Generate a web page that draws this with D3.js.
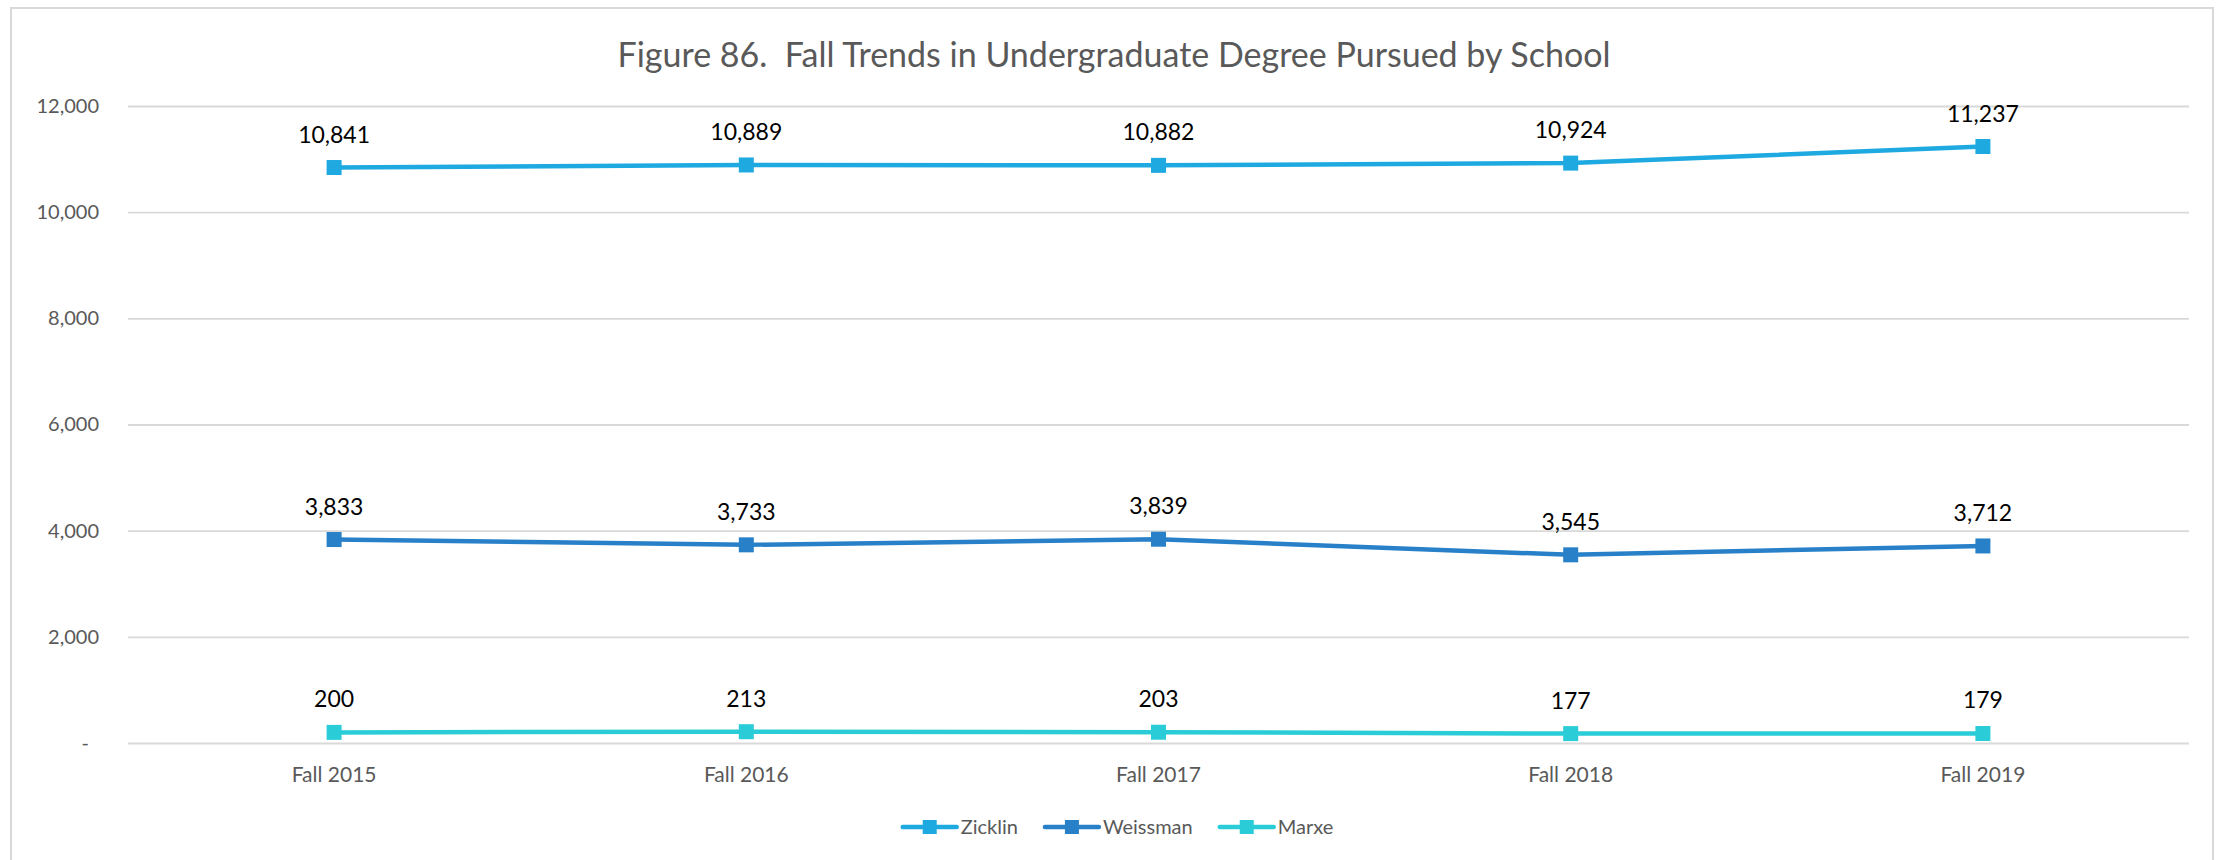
<!DOCTYPE html>
<html>
<head>
<meta charset="utf-8">
<script src="https://cdn.jsdelivr.net/npm/d3@7"></script>
<style>
  body { margin: 0; background: #fff; }
  text { font-family: Lato, "Open Sans", sans-serif; }
</style>
</head>
<body>
<div id="chart"></div>
<script>
const categories = ['Fall 2015', 'Fall 2016', 'Fall 2017', 'Fall 2018', 'Fall 2019'];
const zicklin = [10841, 10889, 10882, 10924, 11237];
const weissman = [3833, 3733, 3839, 3545, 3712];
const marxe = [200, 213, 203, 177, 179];
const yTicks = [0, 2000, 4000, 6000, 8000, 10000, 12000];
const seriesNames = ['Zicklin', 'Weissman', 'Marxe'];
const seriesColors = ['#1FA9E1', '#2780C8', '#2ACDD7'];
const title = 'Figure 86.  Fall Trends in Undergraduate Degree Pursued by School';

const series = [zicklin, weissman, marxe].map((values, i) => ({
    name: seriesNames[i],
    color: seriesColors[i],
    values: values
}));

const W = 2224, H = 860;
const margin = { top: 106, right: 35, bottom: 117, left: 128 };
const width = W - margin.left - margin.right;
const height = H - margin.top - margin.bottom;

const root = d3.select('#chart')
    .append('svg')
    .attr('width', W)
    .attr('height', H);

// chart frame
root.append('rect')
    .attr('x', 11)
    .attr('y', 8)
    .attr('width', 2202)
    .attr('height', 880)
    .attr('fill', 'none')
    .attr('stroke', '#D9D9D9')
    .attr('stroke-width', 2);

// Title
root.append('text')
    .attr('x', 1114)
    .attr('y', 67)
    .attr('text-anchor', 'middle')
    .attr('fill', '#595959')
    .style('font-size', '34px')
    .style('white-space', 'pre')
    .text(title);

const svg = root.append('g')
    .attr('transform', `translate(${margin.left},${margin.top})`);

const x = d3.scaleBand()
    .domain(categories)
    .range([0, width]);
const cx = d => x(d) + x.bandwidth() / 2;

const y = d3.scaleLinear()
    .domain([0, 12000])
    .range([height, 0]);

// y axis + gridlines
const yAxis = svg.append('g')
    .call(d3.axisLeft(y)
        .tickValues(yTicks)
        .tickSize(-width)
        .tickPadding(29)
        .tickFormat(d => d === 0 ? '-' : d3.format(',')(d)));
yAxis.select('.domain').remove();
yAxis.selectAll('.tick line')
    .attr('stroke', '#D9D9D9')
    .attr('stroke-width', 1.8);
yAxis.selectAll('.tick text')
    .attr('fill', '#595959')
    .style('font-size', '20px')
    .attr('dx', d => d === 0 ? -10 : 0);

// x axis
const xAxis = svg.append('g')
    .attr('transform', `translate(0,${height})`)
    .call(d3.axisBottom(x).tickSize(0).tickPadding(24));
xAxis.select('.domain').remove();
xAxis.selectAll('.tick text')
    .attr('fill', '#595959')
    .style('font-size', '21px');

const line = d3.line()
    .x((d, i) => cx(categories[i]))
    .y(d => y(d));

const g = svg.selectAll('.series')
    .data(series)
    .enter().append('g')
    .attr('class', 'series');

g.append('path')
    .attr('fill', 'none')
    .attr('stroke', d => d.color)
    .attr('stroke-width', 4.5)
    .attr('stroke-linejoin', 'round')
    .attr('d', d => line(d.values));

g.each(function (s) {
    const sel = d3.select(this);
    sel.selectAll('rect')
        .data(s.values)
        .enter().append('rect')
        .attr('x', (d, i) => cx(categories[i]) - 7.5)
        .attr('y', d => y(d) - 7.5)
        .attr('width', 15)
        .attr('height', 15)
        .attr('fill', s.color);
    sel.selectAll('.lbl')
        .data(s.values)
        .enter().append('text')
        .attr('class', 'lbl')
        .attr('x', (d, i) => cx(categories[i]))
        .attr('y', d => y(d) - 25)
        .attr('text-anchor', 'middle')
        .attr('fill', '#000')
        .style('font-size', '23px')
        .text(d => d3.format(',')(d));
});

// Legend
const legend = root.append('g');
let lx = 0;
series.forEach(s => {
    const item = legend.append('g').attr('transform', `translate(${lx},0)`);
    item.append('line')
        .attr('x1', 0).attr('x2', 54)
        .attr('stroke', s.color)
        .attr('stroke-width', 4.5)
        .attr('stroke-linecap', 'round');
    item.append('rect')
        .attr('x', 20).attr('y', -7)
        .attr('width', 14).attr('height', 14)
        .attr('fill', s.color);
    const t = item.append('text')
        .attr('x', 58)
        .attr('dy', '0.35em')
        .attr('fill', '#595959')
        .style('font-size', '20px')
        .text(s.name);
    lx += 58 + t.node().getComputedTextLength() + 27;
});
lx -= 27;
legend.attr('transform', `translate(${1118 - lx / 2},827)`);
</script>
</body>
</html>
